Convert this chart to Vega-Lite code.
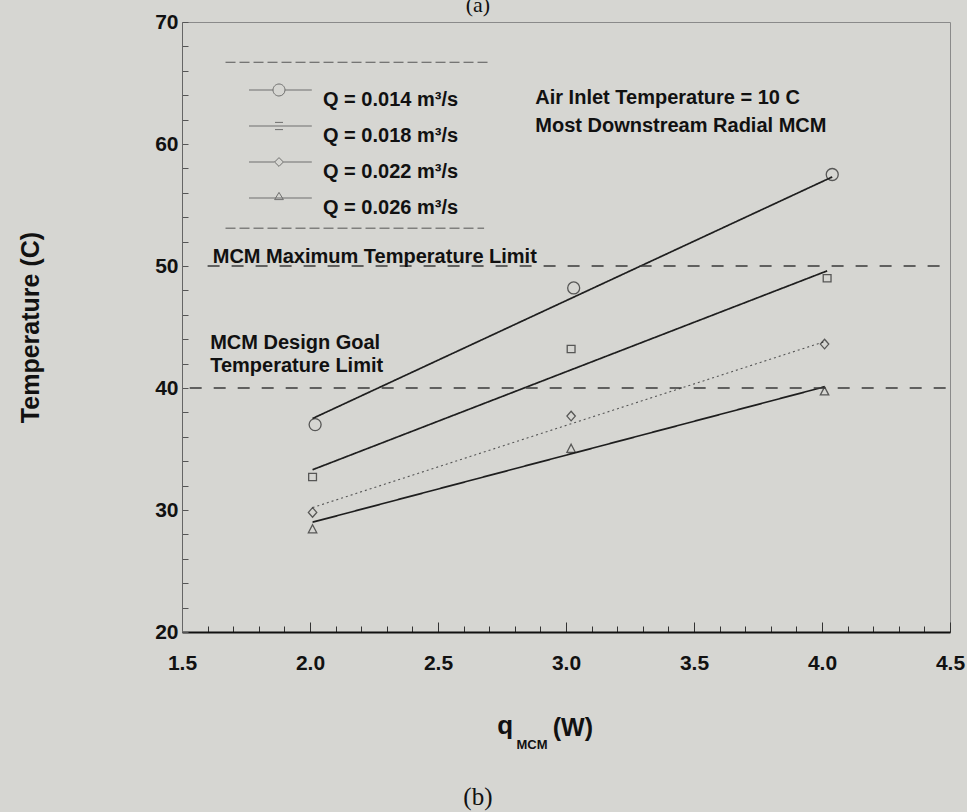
{
  "$schema": "https://vega.github.io/schema/vega-lite/v6.json",
  "width": 768,
  "height": 610,
  "autosize": "none",
  "padding": {"left": 182, "top": 22, "right": 17, "bottom": 180},
  "background": "#d6d6d2",
  "config": {
    "view": {"stroke": "#8a8a8a", "strokeWidth": 1},
    "font": "Liberation Sans"
  },
  "resolve": {"scale": {"shape": "independent"}},
  "datasets": {
    "points": [
      {"Q": "0.014", "q": 2.02, "T": 37.0},
      {"Q": "0.014", "q": 3.03, "T": 48.2},
      {"Q": "0.014", "q": 4.04, "T": 57.5},
      {"Q": "0.018", "q": 2.01, "T": 32.7},
      {"Q": "0.018", "q": 3.02, "T": 43.2},
      {"Q": "0.018", "q": 4.02, "T": 49.0},
      {"Q": "0.022", "q": 2.01, "T": 29.8},
      {"Q": "0.022", "q": 3.02, "T": 37.7},
      {"Q": "0.022", "q": 4.01, "T": 43.6},
      {"Q": "0.026", "q": 2.01, "T": 28.4},
      {"Q": "0.026", "q": 3.02, "T": 35.0},
      {"Q": "0.026", "q": 4.01, "T": 39.7}
    ],
    "fits": [
      {"Q": "0.014", "q": 2.01, "T": 37.5},
      {"Q": "0.014", "q": 4.04, "T": 57.3},
      {"Q": "0.018", "q": 2.01, "T": 33.3},
      {"Q": "0.018", "q": 4.02, "T": 49.6},
      {"Q": "0.022", "q": 2.01, "T": 30.2},
      {"Q": "0.022", "q": 4.01, "T": 43.8},
      {"Q": "0.026", "q": 2.01, "T": 29.0},
      {"Q": "0.026", "q": 4.01, "T": 40.1}
    ]
  },
  "layer": [
    {
      "data": {"name": "fits"},
      "mark": {"type": "line"},
      "encoding": {
        "x": {
          "field": "q", "type": "quantitative",
          "scale": {"domain": [1.5, 4.5], "nice": false, "zero": false},
          "axis": {
            "values": [1.5,1.6,1.7,1.8,1.9,2.0,2.1,2.2,2.3,2.4,2.5,2.6,2.7,2.8,2.9,3.0,3.1,3.2,3.3,3.4,3.5,3.6,3.7,3.8,3.9,4.0,4.1,4.2,4.3,4.4,4.5],
            "tickCount": 100,
            "labelExpr": "abs(datum.value*2 - round(datum.value*2)) < 0.001 ? format(datum.value, '.1f') : ''",
            "labelFontSize": 21,
            "labelFontWeight": "bold",
            "labelColor": "#111",
            "labelPadding": 30,
            "labelFlush": false,
            "labelOverlap": false,
            "tickSize": {"condition": {"test": "abs(datum.value*2 - round(datum.value*2)) < 0.001", "value": -10}, "value": -6},
            "tickColor": "#333",
            "tickWidth": 1,
            "domainColor": "#111",
            "domainWidth": 2,
            "grid": false,
            "title": null
          }
        },
        "y": {
          "field": "T", "type": "quantitative",
          "scale": {"domain": [20, 70], "nice": false, "zero": false},
          "axis": {
            "values": [20,22,24,26,28,30,32,34,36,38,40,42,44,46,48,50,52,54,56,58,60,62,64,66,68,70],
            "tickCount": 100,
            "labelExpr": "datum.value % 10 === 0 ? format(datum.value, 'd') : ''",
            "labelFontSize": 21,
            "labelFontWeight": "bold",
            "labelColor": "#111",
            "labelPadding": 10,
            "labelOverlap": false,
            "tickSize": -6,
            "tickColor": "#555",
            "domainColor": "#666",
            "domainWidth": 1,
            "grid": false,
            "title": "Temperature (C)",
            "titleFontSize": 25,
            "titleFontWeight": "bold",
            "titleColor": "#111",
            "titlePadding": 111
          }
        },
        "detail": {"field": "Q"},
        "strokeDash": {"condition": {"test": "datum.Q === '0.022'", "value": [2, 3]}, "value": [1, 0]},
        "strokeWidth": {"condition": {"test": "datum.Q === '0.022'", "value": 1.1}, "value": 1.7},
        "color": {"condition": {"test": "datum.Q === '0.022'", "value": "#555555"}, "value": "#1e1e1e"}
      }
    },
    {
      "data": {"name": "points"},
      "mark": {"type": "point", "filled": false, "stroke": "#222", "strokeWidth": 1.3, "size": 144},
      "encoding": {
        "x": {"field": "q", "type": "quantitative"},
        "y": {"field": "T", "type": "quantitative"},
        "shape": {
          "field": "Q", "type": "nominal",
          "scale": {
            "domain": ["0.014","0.018","0.022","0.026"],
            "range": [
              "M-1,0A1,1,0,1,1,1,0A1,1,0,1,1,-1,0Z",
              "M-0.65,-0.6H0.65V0.6H-0.65Z",
              "M0,-0.8L0.7,0L0,0.8L-0.7,0Z",
              "M0,-0.8L0.7,0.55L-0.7,0.55Z"
            ]
          },
          "legend": null
        }
      }
    },
    {
      "data": {"name": "points"},
      "mark": {"type": "point", "filled": false, "stroke": "#444", "strokeWidth": 1, "size": 0},
      "encoding": {
        "x": {"field": "q", "type": "quantitative"},
        "y": {"field": "T", "type": "quantitative"},
        "shape": {
          "field": "Q", "type": "nominal",
          "scale": {
            "domain": ["0.014","0.018","0.022","0.026"],
            "range": [
              "M-3.75,0H-0.75M0.75,0H4.1M-0.75,0A0.75,0.75,0,1,1,0.75,0A0.75,0.75,0,1,1,-0.75,0",
              "M-3.75,0H4.1M-0.5,-0.45H0.5M-0.5,0.45H0.5",
              "M-3.75,0H-0.55M0.55,0H4.1M0,-0.55L0.55,0L0,0.55L-0.55,0Z",
              "M-3.75,0H4.1M0,-0.7L0.55,0.2L-0.55,0.2Z"
            ]
          },
          "legend": {
            "orient": "none",
            "legendX": 87,
            "legendY": 58,
            "title": null,
            "padding": 0,
            "labelExpr": "'Q = ' + datum.label + ' m³/s'",
            "labelFontSize": 20,
            "labelFontWeight": "bold",
            "labelColor": "#111",
            "labelBaseline": "top",
            "labelOffset": 34,
            "symbolSize": 256,
            "symbolStrokeColor": "#444",
            "symbolStrokeWidth": 1,
            "symbolFillColor": "transparent",
            "rowPadding": 6
          }
        }
      }
    },
    {
      "data": {"values": [{}]},
      "mark": {"type": "rule", "strokeDash": [12, 12], "color": "#3a3a3a", "strokeWidth": 1.5},
      "encoding": {"x": {"datum": 1.6}, "x2": {"datum": 4.5}, "y": {"datum": 50}}
    },
    {
      "data": {"values": [{}]},
      "mark": {"type": "rule", "strokeDash": [12, 12], "color": "#3a3a3a", "strokeWidth": 1.5},
      "encoding": {"x": {"datum": 1.53}, "x2": {"datum": 4.5}, "y": {"datum": 40}}
    },
    {
      "data": {"values": [{}]},
      "mark": {"type": "rule", "strokeDash": [10, 4], "color": "#555", "strokeWidth": 1},
      "encoding": {"x": {"datum": 1.67}, "x2": {"datum": 2.7}, "y": {"datum": 66.7}}
    },
    {
      "data": {"values": [{}]},
      "mark": {"type": "rule", "strokeDash": [10, 4], "color": "#555", "strokeWidth": 1},
      "encoding": {"x": {"datum": 1.67}, "x2": {"datum": 2.68}, "y": {"datum": 53.1}}
    },
    {
      "data": {"values": [{}]},
      "mark": {"type": "text", "text": "Air Inlet Temperature = 10 C", "align": "left", "baseline": "middle", "fontSize": 20, "fontWeight": "bold", "color": "#111"},
      "encoding": {"x": {"datum": 2.88}, "y": {"datum": 63.8}}
    },
    {
      "data": {"values": [{}]},
      "mark": {"type": "text", "text": "Most Downstream Radial MCM", "align": "left", "baseline": "middle", "fontSize": 20, "fontWeight": "bold", "color": "#111"},
      "encoding": {"x": {"datum": 2.88}, "y": {"datum": 61.5}}
    },
    {
      "data": {"values": [{}]},
      "mark": {"type": "text", "text": "MCM Maximum Temperature Limit", "align": "left", "baseline": "middle", "fontSize": 20, "fontWeight": "bold", "color": "#111"},
      "encoding": {"x": {"datum": 1.62}, "y": {"datum": 50.7}}
    },
    {
      "data": {"values": [{}]},
      "mark": {"type": "text", "text": "MCM Design Goal", "align": "left", "baseline": "middle", "fontSize": 20, "fontWeight": "bold", "color": "#111"},
      "encoding": {"x": {"datum": 1.61}, "y": {"datum": 43.7}}
    },
    {
      "data": {"values": [{}]},
      "mark": {"type": "text", "text": "Temperature Limit", "align": "left", "baseline": "middle", "fontSize": 20, "fontWeight": "bold", "color": "#111"},
      "encoding": {"x": {"datum": 1.61}, "y": {"datum": 41.8}}
    },
    {
      "data": {"values": [{}]},
      "mark": {"type": "text", "text": "q", "align": "center", "baseline": "middle", "fontSize": 26, "fontWeight": "bold", "color": "#111"},
      "encoding": {"x": {"datum": 2.762}, "y": {"datum": 12.3}}
    },
    {
      "data": {"values": [{}]},
      "mark": {"type": "text", "text": "MCM", "align": "center", "baseline": "middle", "fontSize": 13, "fontWeight": "bold", "color": "#111"},
      "encoding": {"x": {"datum": 2.867}, "y": {"datum": 10.74}}
    },
    {
      "data": {"values": [{}]},
      "mark": {"type": "text", "text": "(W)", "align": "center", "baseline": "middle", "fontSize": 25, "fontWeight": "bold", "color": "#111"},
      "encoding": {"x": {"datum": 3.027}, "y": {"datum": 12.1}}
    },
    {
      "data": {"values": [{}]},
      "mark": {"type": "text", "text": "(b)", "align": "center", "baseline": "middle", "fontSize": 25, "font": "Liberation Serif", "color": "#111"},
      "encoding": {"x": {"datum": 2.656}, "y": {"datum": 6.5}}
    },
    {
      "data": {"values": [{}]},
      "mark": {"type": "text", "text": "(a)", "align": "center", "baseline": "middle", "fontSize": 22, "font": "Liberation Serif", "color": "#111"},
      "encoding": {"x": {"datum": 2.656}, "y": {"datum": 71.4}}
    }
  ]
}
